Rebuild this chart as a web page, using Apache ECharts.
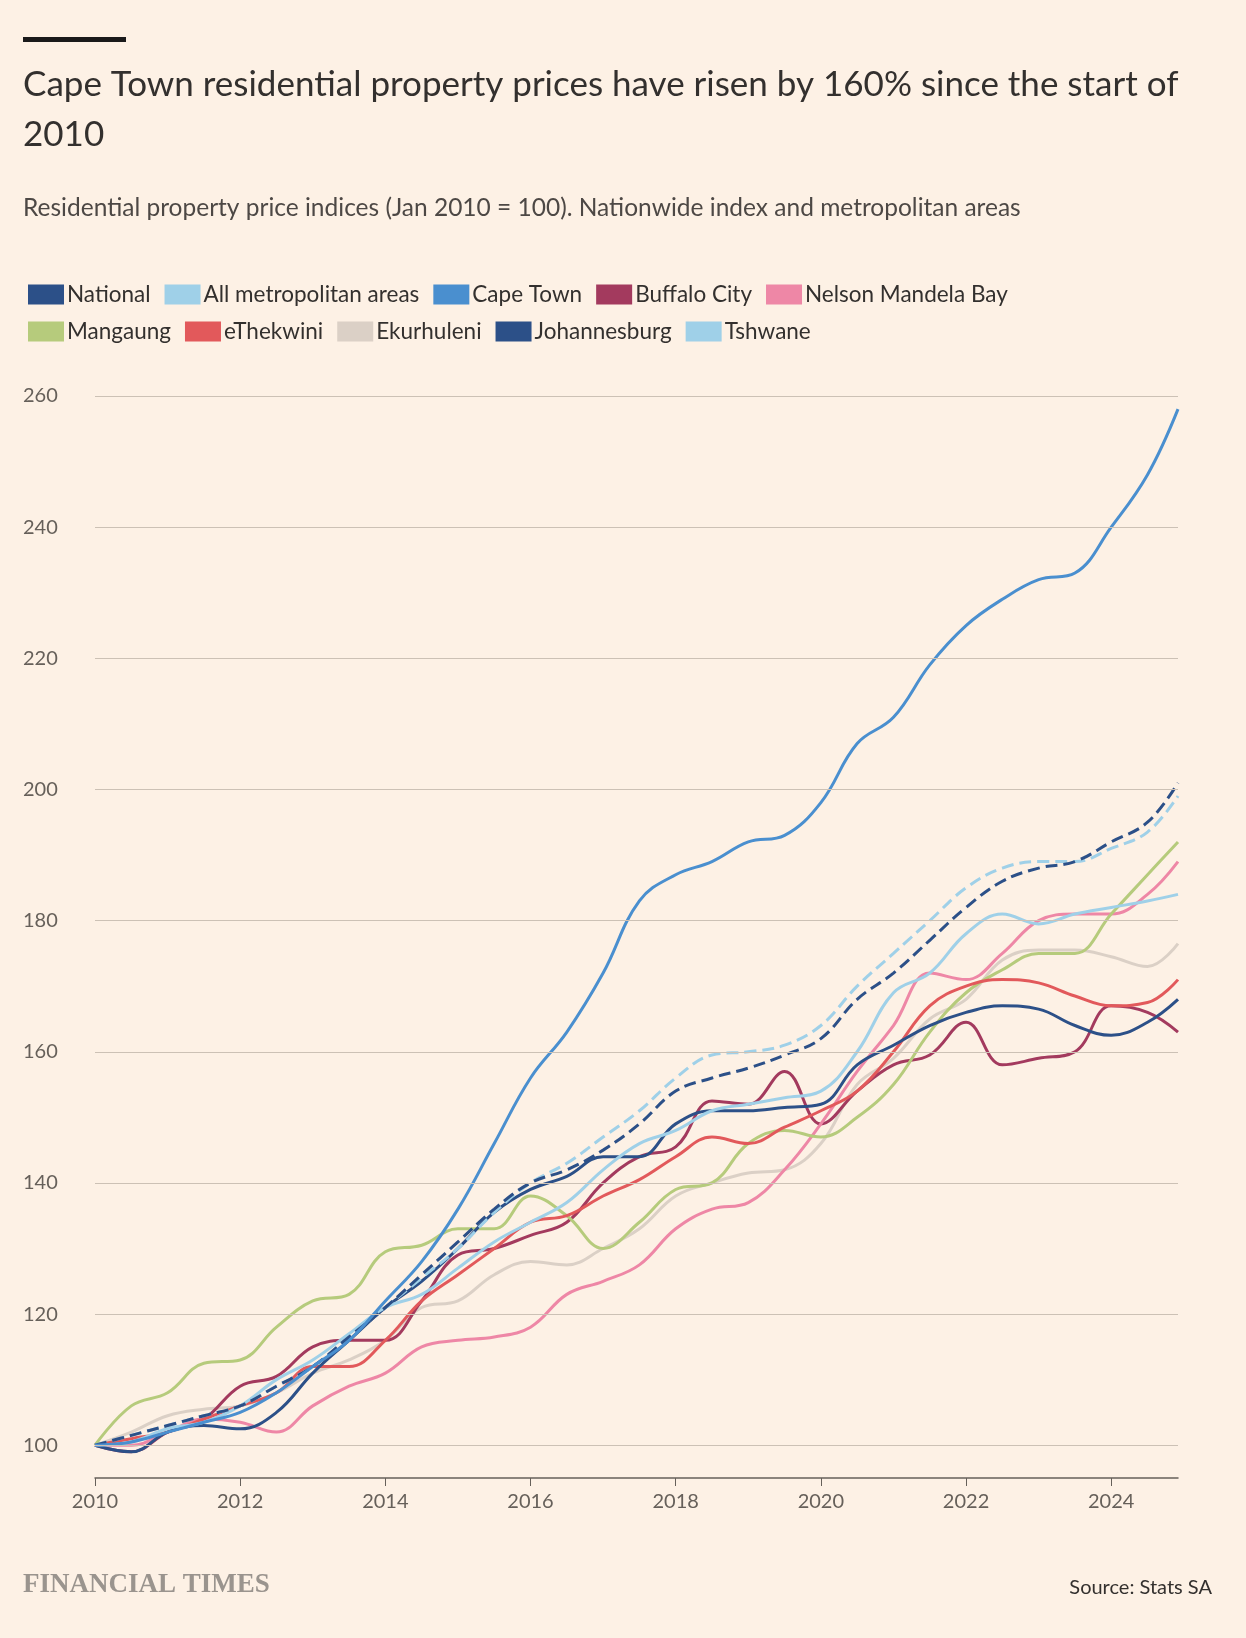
<!DOCTYPE html>
<html><head><meta charset="utf-8">
<script src="https://cdn.jsdelivr.net/npm/echarts@6/dist/echarts.min.js"></script>
<style>body{margin:0;background:#fdf1e5}#c{width:1246px;height:1638px}</style>
</head><body><div id="c"></div>
<script>
const years = [2010,2010.5,2011,2011.5,2012,2012.5,2013,2013.5,2014,2014.5,2015,2015.5,2016,2016.5,2017,2017.5,2018,2018.5,2019,2019.5,2020,2020.5,2021,2021.5,2022,2022.5,2023,2023.5,2024,2024.5,2024.92];
const national = [100,101.5,103,104.5,106,109,112,116.5,121,126,131,136,140,142,145,149,154,156,157.5,159.5,162,168,172,177,182,186,188,189,192,195,201];
const allMetros = [100,101.5,103,104.5,106,109,112,116.5,121,125.5,130,135.5,140,143,147,151,156,159.5,160,161,164,170,175,180,185,188,189,189,191,193.5,199];
const capeTown = [100,100.5,102,103.5,105,108,112,116,122,128,136,146,156,163,172,183,187,189,192,193,198,207,211,219,225,229,232,233,240,248,258];
const buffaloCity = [100,99,102,104,109,110.5,115,116,116,122,129,130,132,134,140,144,145.5,152.5,152,157,149,154,158,159.5,164.5,158,159,160,167,166,163];
const nelsonMandela = [100,100,102,104,103.5,102,106,109,111,115,116,116.5,118,123,125,127.5,133,136,137,142,149,157,164,172,171,175,180,181,181,184,189];
const mangaung = [100,106,108,112.5,113,118,122,123,129.5,130.5,133,133,138,135,130,134,139,140,146,148,147,150,155,163,169,172.5,175,175,181,187,192];
const eThekwini = [100,101,102,104,106,108,112,112,116,122,126,130,134,135,138,140.5,144,147,146,148.5,151,154,160,167,170,171,170.5,168.5,167,167.5,171];
const ekurhuleni = [100,102,104.5,105.5,106,108,111,113,116,121,122,126,128,127.5,130,133,138,140,141.5,142,146,155,159,165,168,174,175.5,175.5,174.5,173,176.5];
const johannesburg = [100,99,102,103,102.5,105,111,116,121,125,130,135.5,139,141,144,144,149,151,151,151.5,152,158,161,164,166,167,166.5,164,162.5,164.5,168];
const tshwane = [100,100.5,102.5,103.5,106,110,113,117,121,123,127,131,134,137,142,146,148,151,152,153,154,160,169,172,178,181,179.5,181,182,183,184];
const yTicks = [100,120,140,160,180,200,220,240,260];

const DARK='#2c5088', LIGHT='#9fd0e8';
const defs = [
  ['National', national, DARK, 'dashed'],
  ['All metropolitan areas', allMetros, LIGHT, 'dashed'],
  ['Cape Town', capeTown, '#4a8fcf', 'solid'],
  ['Buffalo City', buffaloCity, '#a33a5e', 'solid'],
  ['Nelson Mandela Bay', nelsonMandela, '#ee87a6', 'solid'],
  ['Mangaung', mangaung, '#b6cb7c', 'solid'],
  ['eThekwini', eThekwini, '#e2595b', 'solid'],
  ['Ekurhuleni', ekurhuleni, '#dbd0c6', 'solid'],
  ['Johannesburg', johannesburg, DARK, 'solid'],
  ['Tshwane', tshwane, LIGHT, 'solid']
];
const order = [7,3,4,5,6,8,9,1,0,2];
const series = order.map(i => {
  const d = defs[i];
  return {name:d[0], type:'line', smooth:0.4, symbol:'none', z:3,
    data: years.map((y,k)=>[y,d[1][k]]),
    lineStyle:{color:d[2], width:3, type:d[3]}, itemStyle:{color:d[2]}};
});
series.push({type:'line', data:[], silent:true, z:1,
  markLine:{silent:true, symbol:'none', animation:false,
    lineStyle:{color:'#ccc1b5', width:1.2, type:'solid'},
    label:{position:'start', formatter:p=>p.value, color:'#66605a', fontSize:20, distance:[72,0], align:'left'},
    data: yTicks.map(v=>({yAxis:v}))}});

const chart = echarts.init(document.getElementById('c'));
chart.setOption({
  backgroundColor:'#fdf1e5',
  textStyle:{fontFamily:'Lato, "Open Sans", sans-serif'},
  animation:false,
  graphic:[
    {type:'rect', left:23, top:37, shape:{width:103, height:5}, style:{fill:'#1a1a1a'}},
    {type:'text', left:23, top:60, style:{text:'Cape Town residential property prices have risen by 160% since the start of\n2010', font:'35px Lato, sans-serif', fill:'#33302e', lineHeight:50}},
    {type:'text', left:23, top:196, style:{text:'Residential property price indices (Jan 2010 = 100). Nationwide index and metropolitan areas', font:'24.5px Lato, sans-serif', fill:'#4d4845'}},
    {type:'text', left:23, top:1572, style:{text:'FINANCIAL TIMES', font:'bold 27px "Liberation Serif", serif', fill:'#9a948e'}},
    {type:'text', right:34, top:1578, style:{text:'Source: Stats SA', font:'20px Lato, sans-serif', fill:'#33302e'}}
  ],
  legend:{left:23, top:278, width:1060, icon:'rect', itemWidth:36, itemHeight:20, itemGap:14,
    textStyle:{fontSize:22.5, color:'#33302e', padding:[0,0,0,-2]},
    data: defs.map(d=>({name:d[0], itemStyle:{color:d[2]}, lineStyle:{opacity:0}}))},
  grid:{left:95, right:68, top:396, bottom:160},
  xAxis:{type:'value', min:2010, max:2024.92, interval:2,
    axisLine:{lineStyle:{color:'#66605a', width:1.5}},
    axisTick:{show:true, length:8, lineStyle:{color:'#66605a'}},
    axisLabel:{color:'#66605a', fontSize:20, formatter:v=>String(v), margin:14, showMaxLabel:false},
    splitLine:{show:false}},
  yAxis:{type:'value', min:95, max:260, axisLine:{show:false}, axisTick:{show:false},
    axisLabel:{show:false}, splitLine:{show:false}},
  series
});
</script></body></html>
